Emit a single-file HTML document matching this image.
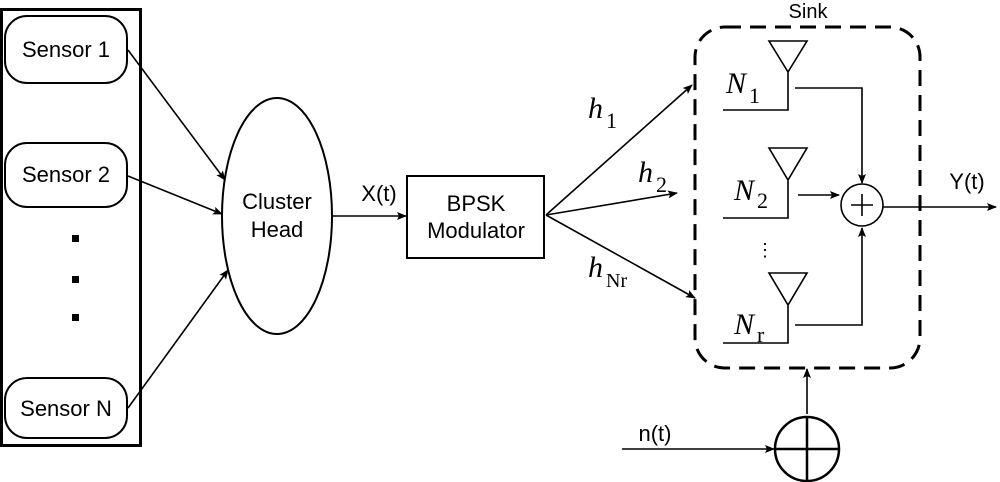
<!DOCTYPE html>
<html><head><meta charset="utf-8"><style>html,body{margin:0;padding:0;background:#fff}svg{display:block}</style></head><body>
<svg width="1000" height="482" viewBox="0 0 1000 482" xmlns="http://www.w3.org/2000/svg" font-family="Liberation Sans, sans-serif">
<defs><marker id="a" markerWidth="10" markerHeight="8" refX="9" refY="4" orient="auto" markerUnits="userSpaceOnUse"><path d="M0,0 L10,4 L0,8 L2,4 z" fill="#000"/></marker></defs>
<g fill="none" stroke="#000" stroke-width="2">
<rect x="1.5" y="9.5" width="139" height="436" stroke-width="3"/>
<rect x="5" y="16" width="122" height="67" rx="22"/>
<rect x="5" y="143" width="122" height="64" rx="22"/>
<rect x="5" y="378" width="122" height="60" rx="22"/>
<ellipse cx="277" cy="216" rx="55" ry="118"/>
<rect x="407" y="176" width="137" height="82"/>
<rect x="695" y="27" width="225" height="341" rx="30" stroke-width="3" stroke-dasharray="16,9"/>
</g>
<g fill="#000"><rect x="72" y="235" width="7" height="7"/><rect x="72" y="276" width="7" height="7"/><rect x="72" y="314" width="7" height="7"/></g>
<g stroke="#000" stroke-width="1.6" fill="none" marker-end="url(#a)">
<line x1="128" y1="50" x2="225" y2="180"/>
<line x1="128" y1="176" x2="222" y2="214"/>
<line x1="128" y1="408" x2="228" y2="270"/>
<line x1="332" y1="216" x2="406" y2="216"/>
<line x1="546" y1="215" x2="692" y2="85"/>
<line x1="546" y1="215" x2="677" y2="193"/>
<line x1="546" y1="215" x2="695" y2="298"/>
<polyline points="795,88 862,88 862,183"/>
<line x1="798" y1="195" x2="839" y2="195"/>
<polyline points="795,325 862,325 862,228"/>
<line x1="883" y1="207" x2="996" y2="207"/>
<line x1="622" y1="449" x2="774" y2="449"/>
<line x1="807" y1="414" x2="807" y2="369"/>
</g>
<g stroke="#000" stroke-width="1.6" fill="none">
<path d="M769,41 L807,41 L788,72 Z M788,72 V110 H723"/>
<path d="M769,148 L807,148 L788,180 Z M788,180 V218 H723"/>
<path d="M769,273 L807,273 L788,305 Z M788,305 V343 H723"/>
<circle cx="862" cy="205" r="21"/>
<path d="M851,205 H873 M862,194 V216"/>
<circle cx="807" cy="449" r="32" stroke-width="2.5"/>
<path d="M775,449 H839 M807,417 V481" stroke-width="2.5"/>
</g>
<g font-size="22" text-anchor="middle" fill="#000">
<text x="66" y="57">Sensor 1</text>
<text x="66" y="182">Sensor 2</text>
<text x="66" y="416">Sensor N</text>
<text x="277" y="209">Cluster</text>
<text x="277" y="237">Head</text>
<text x="476" y="211">BPSK</text>
<text x="476" y="238">Modulator</text>
<text x="379" y="201">X(t)</text>
<text x="808" y="18" font-size="20">Sink</text>
<text x="967" y="189">Y(t)</text>
<text x="655" y="441">n(t)</text>
<text x="765" y="256" font-size="18">⋮</text>
</g>
<g font-family="Liberation Serif, serif" font-style="italic" font-size="30" fill="#000">
<text x="588" y="118">h</text><text x="606" y="128" font-style="normal" font-size="22">1</text>
<text x="638" y="182">h</text><text x="656" y="192" font-style="normal" font-size="22">2</text>
<text x="588" y="277">h</text><text x="606" y="287" font-style="normal" font-size="20">Nr</text>
<text x="726" y="93">N</text><text x="749" y="103" font-style="normal" font-size="22">1</text>
<text x="734" y="200">N</text><text x="757" y="208" font-style="normal" font-size="22">2</text>
<text x="734" y="334">N</text><text x="757" y="342" font-style="normal" font-size="22">r</text>
</g>
</svg>
</body></html>
